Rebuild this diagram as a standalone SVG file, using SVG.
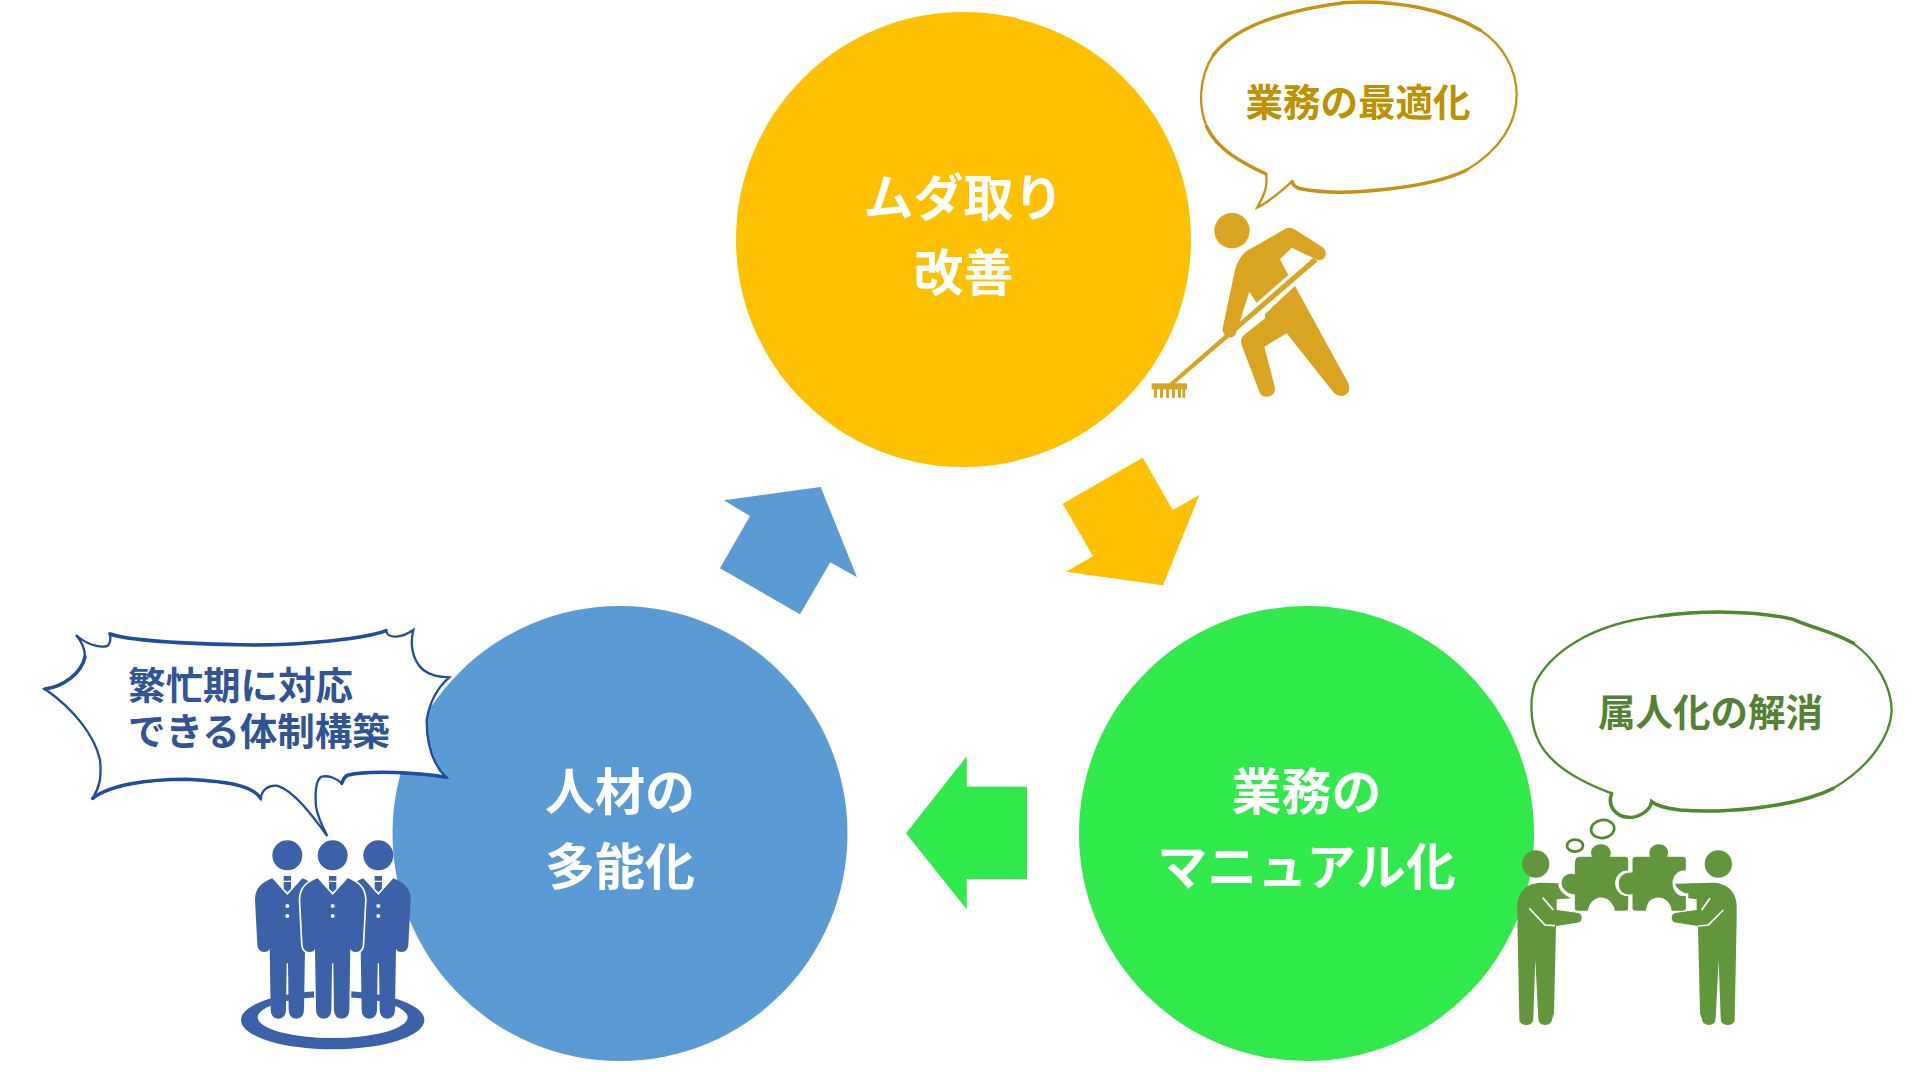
<svg xmlns="http://www.w3.org/2000/svg" xmlns:xlink="http://www.w3.org/1999/xlink" width="1926" height="1072" viewBox="0 0 1926 1072">
<style>
text{font-family:"Noto Sans CJK JP","Noto Sans CJK SC",sans-serif;font-weight:700;text-anchor:middle}
.c{font-size:50px;fill:#fff}
.b{font-size:37.5px}
.bl{text-anchor:start}
.bub{fill:#fff;stroke-width:7;stroke-linejoin:miter}
.thick{fill:none;stroke-width:10.5;stroke-linecap:round}
</style>
<defs>
<g id="man-body">
<path d="M-45,775 C-70,785 -97,800 -97,840 L-90,975 Q-88,995 -70,996 Q-54,996 -53,985 L-50,1170 Q-48,1196 -27,1196 Q-6,1196 -4,1170 L-2,1030 L2,1030 L4,1170 Q6,1196 27,1196 Q48,1196 50,1170 L53,985 Q54,996 70,996 Q88,995 90,975 L97,840 C97,800 70,785 45,775 L0,825 Z"/>
</g>
<g id="man-detail">
<path d="M-11,768 H11 V782 H-11 Z M-11,786 H11 V806 L0,817 L-11,806 Z"/>
<circle cx="0" cy="858" r="6" fill="#fff"/>
<circle cx="0" cy="888" r="6" fill="#fff"/>
</g>
</defs>

<g id="connectors">
<polygon fill="#5B9BD5" points="723.7,500.3 820.7,487 857,577.3 830.3,562.3 800,614.3 720,568.3 750,516"/>
<polygon fill="#FFC000" points="1142.7,457.7 1172.7,510 1199.3,495 1163,585.3 1066,571.7 1093,556.3 1062.7,503.7"/>
<polygon fill="#30E94A" points="906,833.3 966.7,756.3 966.7,786.7 1027,786.7 1027,879 966.7,879 966.7,909.3"/>
</g>

<g id="node-kaizen">
<circle cx="963.5" cy="239.5" r="227.5" fill="#FFC000"/>
<text class="c" x="963.5" y="215.5">ムダ取り</text>
<text class="c" x="963.5" y="290.5">改善</text>
</g>
<g id="node-tanoka">
<circle cx="620" cy="833.5" r="227.5" fill="#5B9BD5"/>
<text class="c" x="620" y="809.5">人材の</text>
<text class="c" x="620" y="884.5">多能化</text>
</g>
<g id="node-manual">
<circle cx="1306.5" cy="833.5" r="227.5" fill="#30E94A"/>
<text class="c" x="1306.5" y="809.5">業務の</text>
<text class="c" x="1306.5" y="884.5">マニュアル化</text>
</g>

<g id="callout-optimize">
<g transform="translate(1130,0) scale(.33333)">
<path class="bub" stroke="#C69214" d="M382,622 C400,590 415,560 408,522 C340,490 262,450 230,380 C205,320 205,235 250,165 C310,85 440,35 640,8 C800,-2 950,30 1050,90 C1120,135 1160,210 1160,285 C1160,370 1110,450 1010,510 C900,565 640,590 520,568 C500,565 490,558 486,545 C450,575 420,605 382,622 Z"/>
<path class="thick" stroke="#C69214" d="M250,165 C310,85 440,35 640,8 C800,-2 950,30 1050,90"/>
<path class="thick" stroke="#C69214" d="M1010,510 C900,565 640,590 520,568 C500,565 490,558 486,545"/>
<path class="thick" stroke="#C69214" d="M408,522 C340,490 262,450 230,380"/>
<g fill="#D9A41F">
<circle cx="306" cy="692" r="53"/>
<path d="M460,690 Q478,677 497,690 L578,742 Q595,758 582,775 Q570,786 552,775 L485,743 L450,778 L475,825 L380,908 L358,875 L328,968 L316,1005 Q300,1020 285,1005 Q275,995 278,985 L315,810 C325,770 350,750 365,745 Z"/>
<path d="M495,858 L655,1150 Q665,1178 640,1187 Q620,1192 605,1170 L470,1000 L403,1040 L435,1165 Q435,1190 410,1190 Q392,1188 388,1175 L335,1035 Q328,1015 345,1003 L405,955 L405,942 Z"/>
<path d="M550,773 L563,784 L130,1155 L118,1150 Z"/>
<rect x="65" y="1150" width="106" height="18"/>
<path d="M72,1165h9v28h-9zM90,1165h9v28h-9zM108,1165h9v28h-9zM126,1165h9v28h-9zM144,1165h9v28h-9zM157,1165h9v28h-9z"/>
</g>
</g>
<text class="b" x="1358" y="116" fill="#BF9000">業務の最適化</text>
</g>

<g id="callout-resolve">
<g transform="translate(1500,600) scale(.33333)">
<path class="bub" stroke="#4F8A2C" d="M335,580 C240,545 140,490 110,410 C90,360 90,295 105,250 C150,160 270,70 480,48 C600,32 760,30 880,58 C940,85 1000,95 1060,130 C1130,180 1175,260 1175,335 C1170,410 1110,500 1000,565 C880,625 660,640 540,630 C500,625 470,618 455,605 C450,635 410,655 385,652 C350,650 320,620 335,580 Z"/>
<path class="thick" stroke="#4F8A2C" d="M480,48 C600,32 760,30 880,58 C940,85 1000,95 1060,130"/>
<path class="thick" stroke="#4F8A2C" d="M1000,565 C880,625 660,640 540,630 C500,625 470,618 455,605 C450,635 410,655 385,652 C350,650 320,620 335,580"/>
<ellipse cx="308" cy="687" rx="35" ry="27" transform="rotate(-8 308 687)" fill="#fff" stroke="#4F8A2C" stroke-width="8"/>
<ellipse cx="225" cy="737" rx="24" ry="18" fill="#fff" stroke="#4F8A2C" stroke-width="8"/>
<g fill="#62963D">
<circle cx="107" cy="792" r="41"/>
<circle cx="655" cy="792" r="41"/>
<path d="M125,848 L175,850 C175,870 190,885 215,895 L170,898 L170,930 L232,938 Q245,940 245,953 Q245,966 232,968 L168,978 L162,1240 L157,1255 Q155,1275 135,1275 Q115,1275 115,1255 L106,1080 L100,1255 Q100,1275 80,1275 Q60,1275 58,1260 L52,960 L52,915 C55,870 85,848 125,848 Z"/>
<g stroke="#fff" stroke-width="5">
<path d="M222,790 Q222,768 240,768 L272,768 C265,745 285,730 303,730 C325,730 340,750 333,768 L375,768 Q387,768 387,780 L387,815 C365,810 348,830 348,850 C348,870 365,890 387,885 L387,925 Q387,935 375,935 L342,935 C340,910 320,895 303,895 C285,895 268,910 266,935 L235,935 Q222,935 222,925 L222,885 C200,885 182,865 182,850 C182,830 200,815 222,820 Z"/>
<path d="M395,780 Q395,768 410,768 L447,768 C440,745 460,730 476,730 C495,730 512,745 505,768 L548,768 Q560,768 560,780 L560,815 C535,810 520,830 520,850 C520,870 535,890 560,885 L560,925 Q560,935 548,935 L513,935 C510,910 495,895 476,895 C455,895 442,910 440,935 L408,935 Q395,935 395,925 L395,885 C365,890 354,870 354,850 C354,830 370,812 395,815 Z"/>
</g>
<path d="M637,848 L525,851 C530,865 545,880 565,880 L565,895 L590,898 L590,930 L530,938 Q515,940 515,953 Q515,966 530,968 L594,978 L600,1240 L605,1255 Q607,1275 627,1275 Q647,1275 647,1255 L656,1080 L662,1255 Q662,1275 682,1275 Q702,1275 704,1260 L710,960 L710,915 C707,870 677,848 637,848 Z"/>
</g>
<g fill="none" stroke="#fff" stroke-width="5">
<path d="M128,893 L160,930"/>
<path d="M88,925 L135,975 L165,977"/>
<path d="M630,895 L605,930"/>
<path d="M670,930 L625,975 L595,978"/>
</g>
</g>
<text class="b" x="1710.5" y="726" fill="#548235">属人化の解消</text>
</g>

<g id="callout-team">
<g transform="translate(20,620) scale(.33333)">
<path class="bub" stroke="#1F4E9E" d="M168,45 C195,70 235,85 262,78 C272,70 272,55 270,42 C340,65 500,72 700,75 C860,75 1040,55 1098,32 C1100,42 1105,50 1130,50 C1150,48 1165,40 1180,30 C1170,70 1175,120 1210,150 C1235,170 1265,170 1288,172 C1255,200 1230,240 1220,300 C1220,370 1235,430 1278,472 C1200,458 1050,450 985,465 C970,470 968,485 965,490 C950,475 925,465 905,470 C885,480 885,520 888,560 C893,590 910,625 922,648 C880,590 820,510 770,497 C745,495 725,510 722,535 C700,500 640,485 500,478 C380,478 270,495 218,535 C240,500 245,470 240,420 C225,350 165,270 75,207 C130,200 185,160 195,110 C195,85 185,65 168,45 Z"/>
<path class="thick" stroke="#1F4E9E" d="M270,42 C340,65 500,72 700,75 C860,75 1040,55 1098,32"/>
<path class="thick" stroke="#1F4E9E" d="M1278,472 C1200,458 1050,450 985,465 C970,470 968,485 965,490"/>
<path class="thick" stroke="#1F4E9E" d="M722,535 C700,500 640,485 500,478 C380,478 270,495 218,535"/>
<path class="thick" stroke="#1F4E9E" d="M75,207 C130,200 185,160 195,110"/>
<path fill="#3B61A8" fill-rule="evenodd" d="M663,1200 A275,88 0 1 0 1213,1200 A275,88 0 1 0 663,1200 Z M713,1192 A225,62 0 1 1 1163,1192 A225,62 0 1 1 713,1192 Z"/>
<g fill="#3B61A8">
<circle cx="802" cy="706" r="45"/>
<circle cx="938" cy="706" r="45"/>
<circle cx="1075" cy="706" r="45"/>
<use xlink:href="#man-body" href="#man-body" transform="translate(802,0)"/>
<use xlink:href="#man-detail" href="#man-detail" transform="translate(802,0)"/>
<use xlink:href="#man-body" href="#man-body" transform="translate(1075,0)"/>
<use xlink:href="#man-detail" href="#man-detail" transform="translate(1075,0)"/>
<use xlink:href="#man-body" href="#man-body" transform="translate(938,0)" stroke="#fff" stroke-width="10" paint-order="stroke"/>
<use xlink:href="#man-detail" href="#man-detail" transform="translate(938,0)"/>
</g>
</g>
<text class="b bl" x="128" y="699" fill="#2F5597">繁忙期に対応</text>
<text class="b bl" x="128" y="745" fill="#2F5597">できる体制構築</text>
</g>
</svg>
